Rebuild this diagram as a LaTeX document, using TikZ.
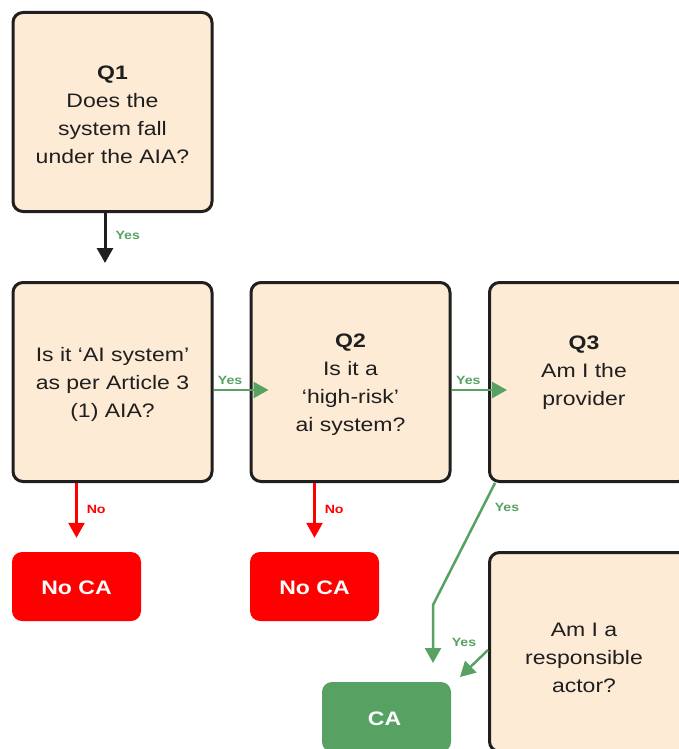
\documentclass[tikz,border=0pt]{standalone}
\usepackage{fontspec}
\setmainfont{Liberation Sans}[FakeStretch=1.18]
\usetikzlibrary{arrows.meta}
\definecolor{peach}{HTML}{FEEBD5}
\definecolor{edge}{HTML}{1F1F1F}
\definecolor{nored}{HTML}{FF0000}
\definecolor{okgreen}{HTML}{57A262}
\begin{document}
\begin{tikzpicture}[x=1pt,y=-1pt,
  qbox/.style={draw=edge, line width=3pt, fill=peach, rounded corners=10pt,
    minimum width=199pt, minimum height=199pt, inner sep=0pt},
  qtext/.style={inner sep=0pt, align=center, font=\fontsize{19.5}{28}\selectfont, text=edge},
  nobox/.style={fill=nored, rounded corners=10pt, minimum width=129pt, minimum height=69pt,
    inner sep=0pt},
  cabox/.style={fill=okgreen, rounded corners=10pt, minimum width=129pt, minimum height=70pt,
    inner sep=0pt},
  wtext/.style={inner sep=0pt, text=white, font=\fontsize{19.5}{24}\selectfont\bfseries},
  lab/.style={inner sep=1pt, font=\fontsize{12}{14}\selectfont\bfseries},
  glab/.style={lab, text=okgreen},
  rlab/.style={lab, text=nored},
  barr/.style={draw=edge, line width=3pt, -{Triangle[width=16pt,length=15pt]}},
  garr/.style={draw=okgreen, line width=2.5pt, -{Triangle[width=16pt,length=15pt]}},
  rarr/.style={draw=nored, line width=2.5pt, -{Triangle[width=16pt,length=15pt]}},
]
\useasboundingbox (0,0) rectangle (679,749);
\clip (0,0) rectangle (679,749);

% boxes
\node[qbox] (q1) at (112.5,112) {};
\node[qtext] (q1t) at ([yshift=-2.5pt]q1.center) {\textbf{Q1}\\Does the\\system fall\\under the AIA?};
\node[qbox] (a) at (112.5,382) {};
\node[qtext] (at) at ([yshift=-2.5pt]a.center) {Is it ‘AI system’\\as per Article 3\\(1) AIA?};
\node[qbox] (q2) at (350.5,382) {};
\node[qtext] (q2t) at ([yshift=-2.5pt]q2.center) {\textbf{Q2}\\Is it a\\‘high-risk’\\ai system?};
\node[qbox] (q3) at (589,382) {};
\node[qtext] (q3t) at ([xshift=-5pt,yshift=9.5pt]q3.center) {\textbf{Q3}\\Am I the\\provider};
\node[qbox] (resp) at (589,652) {};
\node[qtext] (respt) at ([xshift=-5pt,yshift=-5.5pt]resp.center) {Am I a\\responsible\\actor?};
\node[nobox] (no1) at (76.5,586.5) {};
\node[wtext] (no1t) at ([yshift=-1.5pt]no1.center) {No CA};
\node[nobox] (no2) at (314.5,586.5) {};
\node[wtext] (no2t) at ([yshift=-1.5pt]no2.center) {No CA};
\node[cabox] (ca) at (386.5,717) {};
\node[wtext] (cat) at ([xshift=-2pt,yshift=-2pt]ca.center) {CA};

% connectors
\draw[barr, shorten >=18pt] ([xshift=-7.5pt]q1.south) -- ([xshift=-7.5pt]a.north)
  node[glab, pos=0.33, anchor=west, xshift=8pt] {Yes};
\draw[garr, shorten >=-19pt] ([yshift=-8pt]a.east) -- ([yshift=-8pt]q2.west)
  node[glab, pos=0.46, anchor=south, yshift=3pt] {Yes};
\draw[garr, shorten >=-19pt] ([yshift=-8pt]q2.east) -- ([yshift=-8pt]q3.west)
  node[glab, pos=0.46, anchor=south, yshift=3pt] {Yes};
\draw[rarr, shorten >=14pt] (no1.north |- a.south) -- (no1.north)
  node[rlab, pos=0.38, anchor=west, xshift=8pt] {No};
\draw[rarr, shorten >=14pt] (no2.north |- q2.south) -- (no2.north)
  node[rlab, pos=0.38, anchor=west, xshift=8pt] {No};

\coordinate (bend) at (433,605);
\coordinate (castop) at (433,682);
\draw[garr, shorten >=19pt] ([xshift=-94pt]q3.south) -- (bend) -- (castop);
\node[glab] (l5) at ([xshift=-82pt,yshift=-24pt]q3.south) {Yes};

\coordinate (rtip) at (460,677);
\draw[garr] ([yshift=2pt]resp.west) -- (rtip);
\node[glab] (l6) at (464,642) {Yes};
\end{tikzpicture}
\end{document}
